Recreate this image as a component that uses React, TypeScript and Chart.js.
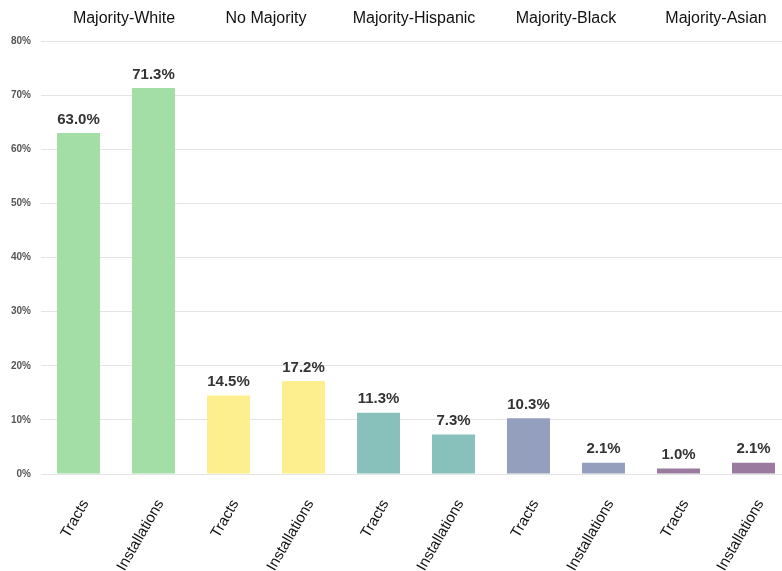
import React, { useEffect, useRef } from "react";
import { Chart, registerables } from "chart.js";

Chart.register(...registerables);

const categories = ["Tracts", "Installations", "Tracts", "Installations", "Tracts", "Installations", "Tracts", "Installations", "Tracts", "Installations"];
const values = [63.0, 71.3, 14.5, 17.2, 11.3, 7.3, 10.3, 2.1, 1.0, 2.1];
const groups = ["Majority-White", "No Majority", "Majority-Hispanic", "Majority-Black", "Majority-Asian"];
const groupColors = ["#a4dea7", "#fdef8d", "#88c1bb", "#939fbd", "#9a7a9f"];
const yTicks = [0, 10, 20, 30, 40, 50, 60, 70, 80];

const barColors = values.map((_, i) => groupColors[Math.floor(i / 2)]);

const FONT = "'Liberation Sans', Arial, sans-serif";

const labelPlugin = {
  id: "labels",
  afterDatasetsDraw(chart: any) {
    const ctx = chart.ctx;
    const meta = chart.getDatasetMeta(0);
    const area = chart.chartArea;
    ctx.save();
    // value labels
    ctx.font = "bold 15px " + FONT;
    ctx.fillStyle = "#333333";
    ctx.textAlign = "center";
    ctx.textBaseline = "bottom";
    meta.data.forEach((bar: any, i: number) => {
      ctx.fillText(values[i].toFixed(1) + "%", bar.x, bar.y - 6);
    });
    // group headers
    const headerShift = [8, 0, -2, 0, 0];
    ctx.font = "16px " + FONT;
    ctx.fillStyle = "#111111";
    ctx.textBaseline = "middle";
    groups.forEach((g, gi) => {
      const x1 = meta.data[gi * 2].x;
      const x2 = meta.data[gi * 2 + 1].x;
      ctx.fillText(g, (x1 + x2) / 2 + headerShift[gi], 19);
    });
    // rotated category labels
    ctx.font = "15px " + FONT;
    ctx.fillStyle = "#111111";
    ctx.textAlign = "right";
    ctx.textBaseline = "middle";
    meta.data.forEach((bar: any, i: number) => {
      ctx.save();
      ctx.translate(bar.x + 7, area.bottom + 27);
      ctx.rotate((-60 * Math.PI) / 180);
      ctx.fillText(categories[i], 0, 0);
      ctx.restore();
    });
    ctx.restore();
  },
};

export default function App() {
  const ref = useRef<HTMLCanvasElement>(null);
  useEffect(() => {
    if (!ref.current) return;
    const chart = new Chart(ref.current, {
      type: "bar",
      data: {
        labels: categories,
        datasets: [
          {
            data: values,
            backgroundColor: barColors,
            borderWidth: 0,
            barPercentage: 0.573,
            categoryPercentage: 1,
          },
        ],
      },
      options: {
        animation: false,
        responsive: true,
        maintainAspectRatio: false,
        layout: { padding: { top: 41, right: 9, left: 0, bottom: 0 } },
        plugins: { legend: { display: false }, tooltip: { enabled: false } },
        scales: {
          x: {
            grid: { display: false },
            border: { display: false },
            ticks: { display: false },
            afterFit: (s: any) => {
              s.height = 97;
            },
          },
          y: {
            min: 0,
            max: 80,
            afterBuildTicks: (s: any) => {
              s.ticks = yTicks.map((v) => ({ value: v }));
            },
            grid: { color: "#e4e4e4", drawTicks: false, lineWidth: 1 },
            border: { display: false },
            ticks: {
              padding: 10,
              color: "#555555",
              font: { size: 10, weight: "bold", family: FONT },
              callback: (v: any) => v + "%",
            },
            afterFit: (s: any) => {
              s.width = 41;
            },
          },
        },
      },
      plugins: [labelPlugin],
    });
    return () => chart.destroy();
  }, []);
  return (
    <div style={{ position: "fixed", left: 0, top: 0, width: 782, height: 571, overflow: "hidden", background: "#fff" }}>
      <div style={{ position: "relative", width: 800, height: 571 }}>
        <canvas ref={ref} />
      </div>
    </div>
  );
}
